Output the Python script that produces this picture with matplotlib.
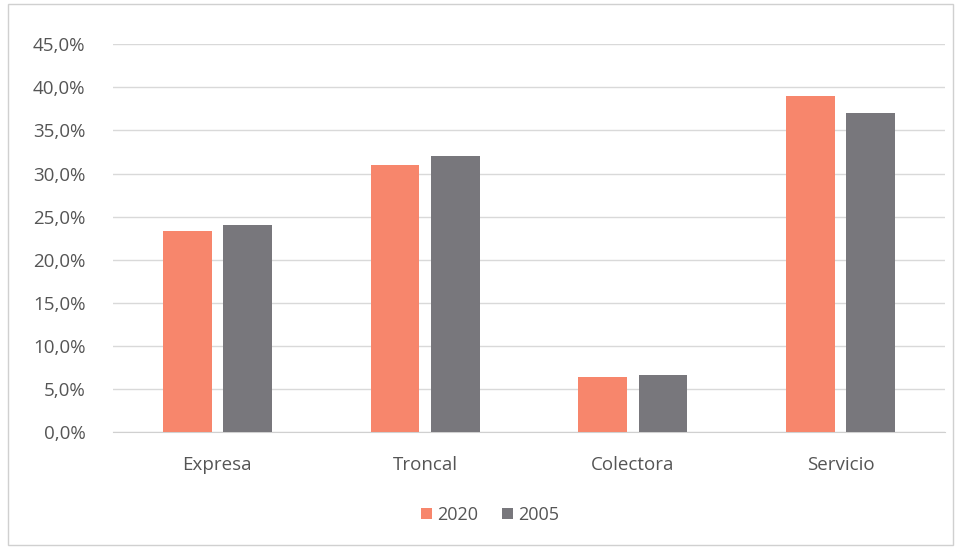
import matplotlib
matplotlib.use("Agg")
import matplotlib.pyplot as plt
from matplotlib.patches import Rectangle
from matplotlib.ticker import FuncFormatter, MultipleLocator
import numpy as np

categories = ["Expresa", "Troncal", "Colectora", "Servicio"]
series_names = ["2020", "2005"]
values_2020 = [23.3, 31.0, 6.4, 39.0]
values_2005 = [24.0, 32.0, 6.6, 37.0]
colors = ["#F7866C", "#78777C"]

plt.rcParams["font.family"] = ["Open Sans", "DejaVu Sans"]

fig = plt.figure(figsize=(9.61, 5.52), dpi=100)
ax = fig.add_axes([0.118, 0.217, 0.865, 0.703])

x = np.arange(len(categories))
w = 0.235
off = 0.145
ax.bar(x - off, values_2020, width=w, color=colors[0], label=series_names[0], zorder=3)
ax.bar(x + off, values_2005, width=w, color=colors[1], label=series_names[1], zorder=3)

ax.set_xlim(-0.5, len(categories) - 0.5)
ax.set_ylim(0, 45)
ax.yaxis.set_major_locator(MultipleLocator(5))
ax.yaxis.set_major_formatter(FuncFormatter(lambda v, p: f"{v:.1f}".replace(".", ",") + "%"))
ax.grid(axis="y", color="#D9D9D9", linewidth=1.0, zorder=0)
ax.set_axisbelow(True)
for s in ["top", "right", "left"]:
    ax.spines[s].set_visible(False)
ax.spines["bottom"].set_color("#D0D0D0")
ax.set_xticks(x)
ax.set_xticklabels(categories)
ax.tick_params(axis="both", length=0, labelsize=13.5, colors="#555555")
ax.tick_params(axis="x", pad=17)
ax.tick_params(axis="y", pad=20)

leg = fig.legend(loc="center", bbox_to_anchor=(0.51, 0.067), ncol=2, frameon=False,
                 fontsize=13, handlelength=0.6, handleheight=0.6, handletextpad=0.3,
                 columnspacing=1.3)
for t in leg.get_texts():
    t.set_color("#555555")

fig.patches.append(Rectangle((0.008, 0.012), 0.984, 0.98, transform=fig.transFigure,
                             fill=False, edgecolor="#D0D0D0", linewidth=1.0))

fig.savefig("out.png", dpi=100, facecolor="white")
